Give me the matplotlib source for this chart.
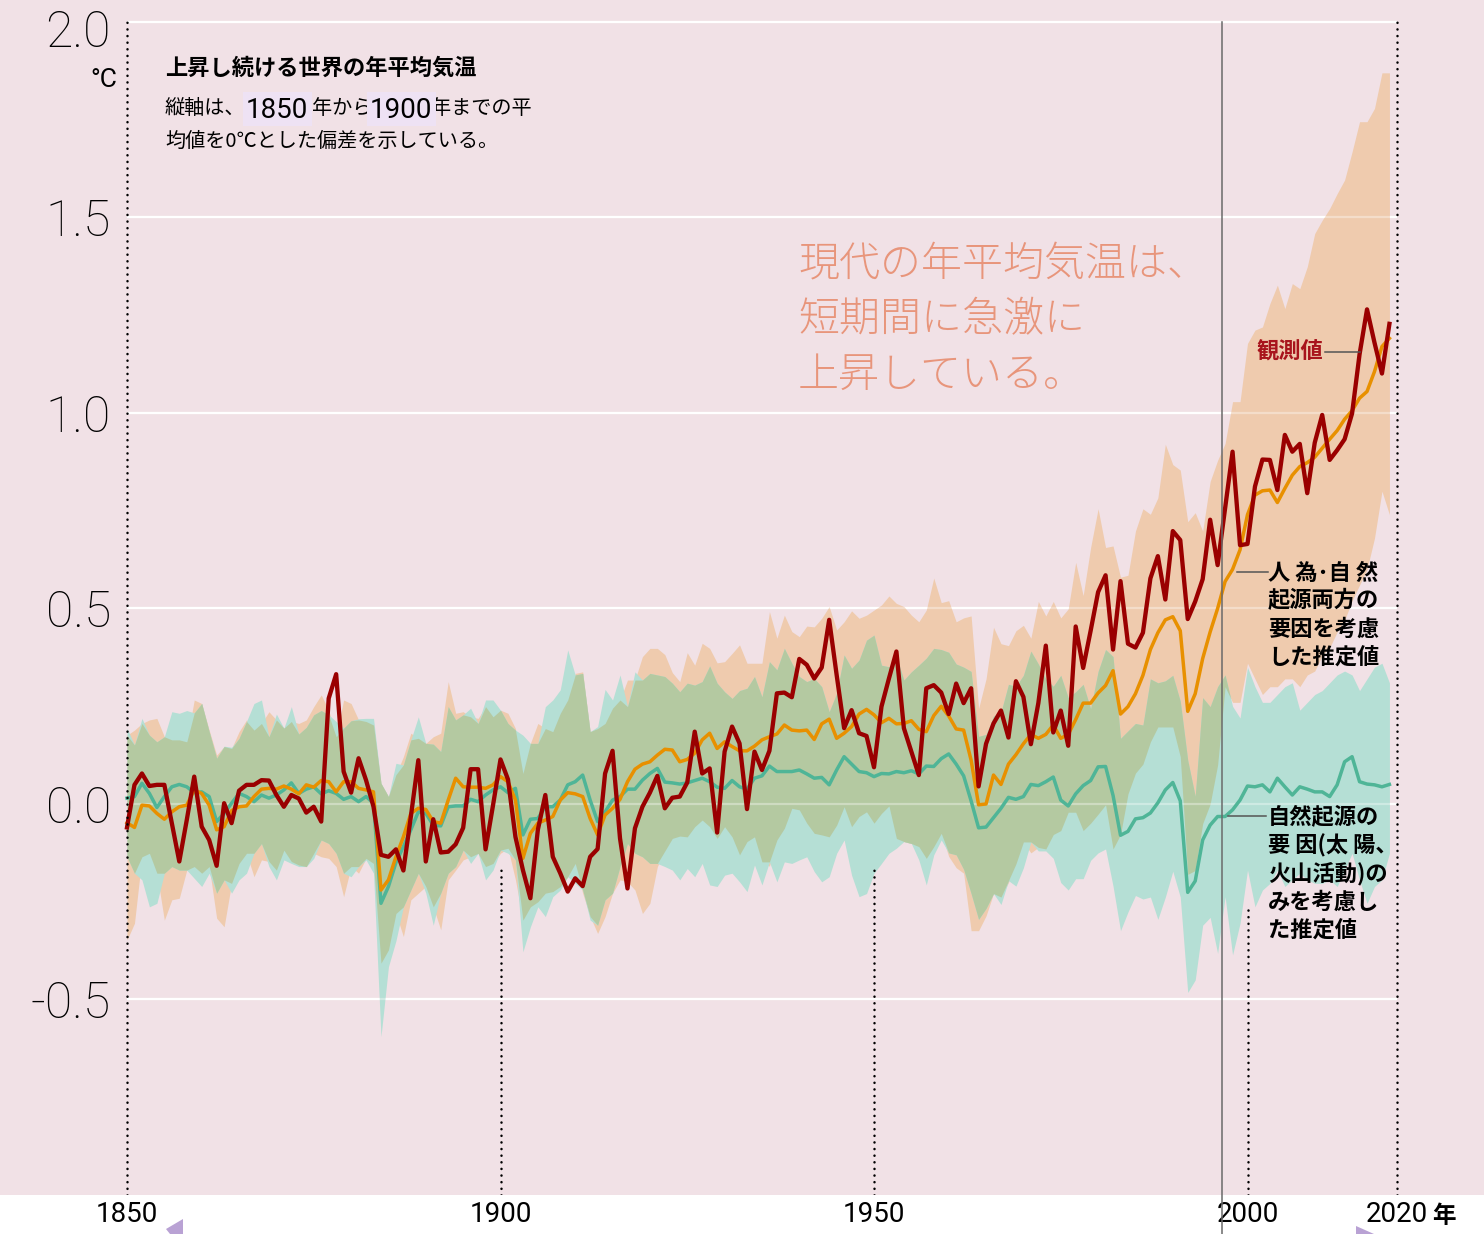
import numpy as np
import matplotlib
matplotlib.use("Agg")
import matplotlib.pyplot as plt
from matplotlib import font_manager
from matplotlib.lines import Line2D
from matplotlib.patches import Rectangle, Polygon
from matplotlib.transforms import blended_transform_factory

# ---- data (deg C, anomaly vs 1850-1900) ----
years = np.arange(1850, 2020)

observed = [
    -0.060, 0.049, 0.078, 0.046, 0.049, 0.049, -0.049, -0.147, -0.041, 0.070,
    -0.058, -0.092, -0.158, 0.002, -0.049, 0.034, 0.049, 0.049, 0.061, 0.060,
    0.023, -0.007, 0.023, 0.014, -0.022, -0.007, -0.045, 0.270, 0.332, 0.083,
    0.029, 0.117, 0.061, -0.007, -0.130, -0.135, -0.116, -0.170, -0.032, 0.112,
    -0.147, -0.039, -0.124, -0.122, -0.103, -0.061, 0.089, 0.089, -0.116, -0.003,
    0.114, 0.063, -0.084, -0.169, -0.241, -0.066, 0.023, -0.135, -0.177, -0.224,
    -0.190, -0.210, -0.135, -0.115, 0.078, 0.136, -0.088, -0.216, -0.062, -0.007,
    0.029, 0.072, -0.011, 0.016, 0.019, 0.055, 0.185, 0.078, 0.091, -0.073,
    0.134, 0.198, 0.155, -0.013, 0.134, 0.087, 0.136, 0.283, 0.285, 0.273,
    0.371, 0.356, 0.321, 0.349, 0.471, 0.330, 0.194, 0.240, 0.181, 0.174,
    0.094, 0.249, 0.321, 0.390, 0.194, 0.134, 0.074, 0.296, 0.304, 0.285,
    0.230, 0.308, 0.258, 0.296, 0.045, 0.154, 0.206, 0.239, 0.170, 0.314,
    0.274, 0.153, 0.258, 0.405, 0.183, 0.239, 0.149, 0.454, 0.348, 0.443,
    0.542, 0.585, 0.395, 0.570, 0.410, 0.400, 0.438, 0.577, 0.634, 0.523,
    0.698, 0.675, 0.473, 0.518, 0.575, 0.727, 0.611, 0.756, 0.901, 0.662,
    0.665, 0.812, 0.881, 0.880, 0.803, 0.944, 0.901, 0.921, 0.795, 0.924,
    0.995, 0.880, 0.905, 0.933, 0.999, 1.150, 1.265, 1.180, 1.101, 1.228,
]

# human + natural, simulated mean
both = [
    -0.048, -0.060, -0.003, -0.005, -0.024, -0.039, -0.020, -0.007, -0.003, 0.036,
    0.027, -0.003, -0.066, -0.058, -0.017, -0.007, -0.005, 0.019, 0.038, 0.040,
    0.038, 0.046, 0.038, 0.026, 0.049, 0.043, 0.060, 0.057, 0.031, 0.057,
    0.057, 0.040, 0.036, 0.031, -0.220, -0.194, -0.135, -0.084, -0.024, -0.011,
    -0.014, -0.045, -0.049, 0.010, 0.066, 0.044, 0.043, 0.043, 0.040, 0.049,
    0.070, 0.057, 0.010, -0.139, -0.075, -0.049, -0.041, -0.032, 0.010, 0.029,
    0.026, 0.019, -0.037, -0.079, -0.028, -0.011, 0.012, 0.057, 0.089, 0.102,
    0.108, 0.125, 0.140, 0.138, 0.108, 0.114, 0.130, 0.164, 0.181, 0.142,
    0.159, 0.147, 0.136, 0.136, 0.148, 0.164, 0.172, 0.179, 0.202, 0.189,
    0.187, 0.189, 0.165, 0.205, 0.217, 0.168, 0.181, 0.198, 0.230, 0.242,
    0.228, 0.208, 0.219, 0.205, 0.206, 0.213, 0.191, 0.185, 0.226, 0.250,
    0.225, 0.192, 0.189, 0.112, -0.002, 0.000, 0.074, 0.050, 0.102, 0.126,
    0.154, 0.178, 0.168, 0.178, 0.202, 0.168, 0.178, 0.216, 0.258, 0.258,
    0.284, 0.303, 0.341, 0.230, 0.249, 0.282, 0.329, 0.395, 0.438, 0.471,
    0.479, 0.443, 0.237, 0.282, 0.372, 0.440, 0.500, 0.569, 0.600, 0.650,
    0.740, 0.790, 0.801, 0.803, 0.771, 0.807, 0.841, 0.863, 0.873, 0.887,
    0.910, 0.933, 0.955, 0.984, 1.006, 1.038, 1.055, 1.106, 1.170, 1.191,
]

# natural only (solar, volcanic), simulated mean
natural = [
    0.015, 0.019, 0.053, 0.027, -0.009, 0.019, 0.044, 0.050, 0.044, 0.029,
    0.031, 0.019, -0.045, -0.024, 0.002, 0.027, 0.019, 0.006, 0.023, 0.015,
    0.023, 0.036, 0.054, 0.027, 0.038, 0.044, 0.026, 0.034, 0.027, 0.012,
    0.019, 0.006, 0.019, 0.002, -0.254, -0.211, -0.150, -0.109, -0.066, -0.020,
    -0.024, -0.054, -0.056, -0.007, -0.005, -0.005, 0.012, 0.006, 0.023, 0.036,
    0.044, 0.029, 0.040, -0.079, -0.039, -0.037, -0.007, -0.007, 0.010, 0.049,
    0.057, 0.074, 0.010, -0.045, -0.020, 0.010, 0.019, 0.038, 0.038, 0.061,
    0.078, 0.091, 0.056, 0.054, 0.051, 0.054, 0.060, 0.066, 0.057, 0.043,
    0.040, 0.060, 0.044, 0.038, 0.066, 0.072, 0.097, 0.083, 0.083, 0.083,
    0.087, 0.077, 0.066, 0.068, 0.049, 0.087, 0.121, 0.102, 0.083, 0.080,
    0.070, 0.078, 0.077, 0.083, 0.080, 0.085, 0.077, 0.097, 0.096, 0.116,
    0.128, 0.102, 0.072, 0.008, -0.061, -0.059, -0.035, -0.011, 0.017, 0.012,
    0.019, 0.050, 0.047, 0.057, 0.069, 0.010, -0.005, 0.026, 0.047, 0.060,
    0.095, 0.096, 0.022, -0.080, -0.070, -0.038, -0.035, -0.023, 0.003, 0.036,
    0.055, 0.008, -0.226, -0.197, -0.092, -0.054, -0.032, -0.032, -0.015, 0.010,
    0.046, 0.044, 0.049, 0.031, 0.066, 0.044, 0.023, 0.044, 0.038, 0.031,
    0.031, 0.019, 0.049, 0.108, 0.121, 0.057, 0.051, 0.049, 0.044, 0.050,
]

both_hi = [
    .176, .189, .206, .215, .219, .172, .164, .164, .159, .266,
    .257, .189, .125, .147, .142, .185, .215, .189, .206, .236,
    .215, .194, .211, .206, .215, .249, .279, .240, .172, .266,
    .257, .215, .211, .202, .053, .019, .075, .121, .181, .168,
    .155, .172, .181, .313, .232, .236, .223, .219, .249, .223,
    .240, .232, .193, .078, .155, .206, .193, .185, .232, .266,
    .334, .338, .185, .193, .206, .245, .266, .317, .317, .377,
    .398, .398, .382, .336, .313, .387, .355, .411, .398, .361,
    .364, .385, .407, .360, .360, .360, .492, .424, .483, .441,
    .428, .455, .453, .475, .505, .445, .466, .494, .475, .483,
    .496, .509, .532, .513, .505, .483, .466, .496, .578, .515,
    .520, .466, .476, .481, .244, .320, .452, .410, .405, .443,
    .457, .424, .518, .481, .518, .476, .499, .618, .533, .656,
    .755, .656, .660, .580, .585, .698, .755, .741, .783, .920,
    .868, .854, .722, .745, .698, .825, .879, .922, 1.029, 1.029,
    1.178, 1.212, 1.220, 1.280, 1.327, 1.267, 1.331, 1.318, 1.374, 1.459,
    1.493, 1.523, 1.561, 1.596, 1.668, 1.745, 1.745, 1.779, 1.870, 1.870,
]

both_lo = [
    -.348, -.305, -.135, -.126, -.177, -.297, -.245, -.241, -.169, -.160,
    -.177, -.160, -.292, -.314, -.203, -.152, -.126, -.186, -.143, -.147,
    -.169, -.118, -.147, -.156, -.160, -.126, -.135, -.139, -.160, -.237,
    -.160, -.177, -.139, -.152, -.407, -.373, -.280, -.339, -.245, -.228,
    -.211, -.263, -.322, -.194, -.169, -.143, -.135, -.126, -.160, -.152,
    -.126, -.113, -.194, -.297, -.263, -.250, -.228, -.224, -.211, -.186,
    -.152, -.228, -.288, -.331, -.288, -.228, -.194, -.199, -.220, -.280,
    -.254, -.160, -.120, -.088, -.082, -.084, -.058, -.041, -.058, -.088,
    -.058, -.084, -.130, -.096, -.084, -.148, -.159, -.092, -.062, -.011,
    -.015, -.049, -.075, -.079, -.084, -.054, -.007, -.058, -.032, -.020,
    -.049, -.024, -.005, -.088, -.096, -.101, -.109, -.139, -.109, -.075,
    -.134, -.163, -.177, -.324, -.324, -.286, -.229, -.238, -.201, -.153,
    -.097, -.125, -.111, -.115, -.078, -.068, -.021, -.021, -.068, -.049,
    -.026, -.002, -.115, -.078, .026, .079, .102, .159, .197, .197,
    .197, .121, -.180, -.170, -.050, .000, .100, .300, .260, .260,
    .360, .320, .280, .300, .300, .320, .320, .300, .330, .340,
    .380, .400, .440, .470, .520, .560, .600, .680, .800, .740,
]

nat_hi = [
    .194, .151, .219, .176, .159, .172, .236, .232, .239, .233,
    .257, .185, .117, .148, .145, .168, .211, .257, .266, .172,
    .230, .194, .249, .179, .196, .228, .239, .228, .211, .194,
    .213, .218, .219, .219, .053, .019, .104, .100, .164, .223,
    .155, .153, .134, .249, .215, .228, .245, .206, .266, .266,
    .240, .206, .189, .176, .155, .155, .249, .266, .292, .394,
    .330, .334, .185, .198, .293, .266, .330, .249, .338, .317,
    .334, .330, .326, .309, .287, .309, .304, .313, .353, .309,
    .287, .270, .290, .296, .326, .274, .364, .343, .398, .360,
    .326, .313, .321, .300, .236, .283, .381, .347, .368, .419,
    .432, .355, .351, .377, .317, .338, .355, .373, .398, .395,
    .388, .358, .350, .339, .173, .178, .225, .235, .306, .301,
    .329, .391, .358, .320, .301, .329, .272, .287, .306, .244,
    .339, .395, .377, .168, .187, .206, .202, .320, .310, .315,
    .329, .263, .112, .020, .272, .249, .300, .330, .250, .220,
    .350, .300, .260, .260, .280, .300, .310, .240, .260, .280,
    .290, .310, .330, .340, .330, .290, .320, .350, .360, .310,
]

nat_lo = [
    -.135, -.177, -.194, -.263, -.254, -.177, -.160, -.169, -.169, -.190,
    -.211, -.177, -.228, -.194, -.228, -.194, -.177, -.126, -.101, -.160,
    -.194, -.143, -.152, -.160, -.160, -.139, -.092, -.101, -.126, -.177,
    -.186, -.160, -.143, -.177, -.595, -.416, -.350, -.263, -.220, -.177,
    -.228, -.310, -.228, -.177, -.160, -.118, -.152, -.126, -.194, -.169,
    -.118, -.126, -.143, -.378, -.314, -.263, -.288, -.237, -.220, -.186,
    -.203, -.220, -.297, -.310, -.245, -.228, -.160, -.101, -.126, -.135,
    -.152, -.152, -.160, -.169, -.194, -.165, -.186, -.152, -.207, -.211,
    -.182, -.177, -.199, -.224, -.156, -.207, -.148, -.199, -.148, -.152,
    -.143, -.135, -.173, -.199, -.186, -.126, -.092, -.182, -.237, -.229,
    -.177, -.152, -.126, -.113, -.096, -.101, -.143, -.207, -.130, -.092,
    -.125, -.130, -.167, -.229, -.295, -.267, -.229, -.257, -.196, -.210,
    -.163, -.097, -.120, -.120, -.139, -.201, -.220, -.191, -.191, -.144,
    -.125, -.115, -.210, -.324, -.276, -.234, -.243, -.238, -.295, -.238,
    -.172, -.238, -.482, -.450, -.310, -.290, -.382, -.237, -.386, -.305,
    -.169, -.263, -.220, -.203, -.169, -.211, -.194, -.177, -.194, -.203,
    -.203, -.194, -.211, -.169, -.126, -.194, -.254, -.211, -.194, -.126,
]

grid_values = [-0.5, 0.0, 0.5, 1.0, 1.5, 2.0]
ytick_labels = ["-0.5", "0.0", "0.5", "1.0", "1.5", "2.0"]
xtick_years = [1850, 1900, 1950, 2000, 2020]
xtick_labels = ["1850", "1900", "1950", "2000", "2020"]

# ---- look ----
W, H = 1484, 1234
BG = "#f1e1e6"
C_OBS = "#9a0000"
C_BOTH = "#e89000"
C_NAT = "#4fb597"
C_BOTH_BAND = "#efcbae"
C_NAT_BAND = "#b5dfd5"
C_OVERLAP = "#b4c9a1"
C_NOTE = "#e8957b"

installed = {f.name for f in font_manager.fontManager.ttflist}


def pick(*names):
    for n in names:
        if n in installed:
            return n
    return "DejaVu Sans"


JP = "Noto Sans CJK JP"
NARROW = pick("Liberation Sans Narrow", "Roboto", "DejaVu Sans")
THIN = pick("Roboto", "Lato", "DejaVu Sans")
plt.rcParams["font.family"] = [JP, "DejaVu Sans"]


def fx(x):
    return x / W


def fy(y):
    return 1 - y / H


fig = plt.figure(figsize=(W / 100, H / 100), dpi=100, facecolor="white")
ax = fig.add_axes([0, fy(1195), 1, 1195 / H])
ax.set_facecolor(BG)
px_per_year = 7.47
ax.set_xlim(1850 - 127 / px_per_year, 1850 + (W - 127) / px_per_year)
ax.set_ylim(-1.0, 804 / 391)
for s in ax.spines.values():
    s.set_visible(False)
ax.set_xticks([])
ax.set_yticks([])

# grid under the bands, plus a faint copy on top
ax.hlines(grid_values, 1850, 2020, colors="white", lw=1.6, zorder=0.5)
ax.hlines(grid_values, 1850, 2020, colors="white", lw=1.6, alpha=0.35, zorder=1.5)

# bands: each alone, then their overlap in its own colour
both_lo_a, both_hi_a = np.array(both_lo), np.array(both_hi)
nat_lo_a, nat_hi_a = np.array(nat_lo), np.array(nat_hi)
ax.fill_between(years, both_lo_a, both_hi_a, color=C_BOTH_BAND, lw=0, zorder=1)
ax.fill_between(years, nat_lo_a, nat_hi_a, color=C_NAT_BAND, lw=0, zorder=1.1)
lo = np.maximum(both_lo_a, nat_lo_a)
hi = np.minimum(both_hi_a, nat_hi_a)
ax.fill_between(years, lo, hi, where=hi > lo, interpolate=True,
                color=C_OVERLAP, lw=0, zorder=1.2)

ax.plot(years, natural, color=C_NAT, lw=2.5, zorder=3)
ax.plot(years, both, color=C_BOTH, lw=2.5, zorder=3.1)
ax.plot(years, observed, color=C_OBS, lw=3.1, zorder=3.2)

# dotted year lines
tops = [2.0, -0.156, -0.169, -0.258, 2.0]
for yr, top in zip(xtick_years, tops):
    ax.plot([yr, yr], [-1.0, top], color="black", lw=1.8,
            ls=(0, (0.05, 2.6)), dash_capstyle="round", zorder=4)

tx = blended_transform_factory(ax.transData, fig.transFigure)
for yr, lab in zip(xtick_years, xtick_labels):
    ax.text(yr, fy(1215), lab, transform=tx, ha="center", va="center",
            fontsize=20, family=NARROW, clip_on=False)
fig.text(fx(1444), fy(1216), "年", ha="center", va="center", fontsize=17,
         weight="bold")

ty = blended_transform_factory(fig.transFigure, ax.transData)
for v, lab in zip(grid_values, ytick_labels):
    yv = v - 0.015 if v == 2.0 else v
    ax.text(fx(111), yv, lab, transform=ty, ha="right", va="center_baseline",
            fontsize=36, family=THIN, weight="light")
fig.text(fx(117), fy(80), "°C", ha="right", va="center", fontsize=19,
         family=THIN)

# fold line of the page
fig.add_artist(Line2D([fx(1222)] * 2, [0, fy(22)], color="#6a6a6a", lw=1.1))

# heading
fig.text(fx(165), fy(68), "上昇し続ける世界の年平均気温", fontsize=16,
         weight="bold", va="center")
fig.text(fx(165), fy(108), "縦軸は、", fontsize=14.5, va="center")
fig.text(fx(312), fy(108), "年から", fontsize=14.5, va="center")
fig.text(fx(431), fy(108), "年までの平", fontsize=14.5, va="center")
fig.text(fx(165), fy(141), "均値を0℃とした偏差を示している。", fontsize=14.5,
         va="center")
for x0, lab in [(243, "1850"), (367, "1900")]:
    fig.add_artist(Rectangle((fx(x0), fy(126)), 69 / W, 34 / H,
                             transform=fig.transFigure, fc="#eee2f4",
                             ec="none", zorder=5))
    fig.text(fx(x0 + 34), fy(111), lab, ha="center", va="center",
             fontsize=20, family=NARROW, zorder=6)

# big note
for i, line in enumerate(["現代の年平均気温は、", "短期間に急激に", "上昇している。"]):
    fig.text(fx(798), fy(264 + 55.5 * i), line, fontsize=29.5, color=C_NOTE,
             weight="light", va="center")

# labels with leaders
fig.text(fx(1323), fy(351), "観測値", ha="right", va="center", fontsize=16,
         weight="bold", color="#a8141c")
fig.add_artist(Line2D([fx(1325), fx(1360)], [fy(352)] * 2, color="#555555",
                      lw=1.1))

for i, line in enumerate(["人 為･自 然", "起源両方の", "要因を考慮", "した推定値"]):
    fig.text(fx(1268), fy(573 + 28 * i), line, fontsize=16, weight="bold",
             va="center")
fig.add_artist(Line2D([fx(1237), fx(1268)], [fy(572)] * 2, color="#555555",
                      lw=1.1))

for i, line in enumerate(["自然起源の", "要 因(太 陽、", "火山活動)の",
                          "みを考慮し", "た推定値"]):
    fig.text(fx(1268), fy(817 + 28.3 * i), line, fontsize=16, weight="bold",
             va="center")
fig.add_artist(Line2D([fx(1228), fx(1266)], [fy(816)] * 2, color="#555555",
                      lw=1.1))

# cut-off page arrows at the bottom edge
fig.add_artist(Polygon([[fx(166), fy(1229)], [fx(183), fy(1219)],
                        [fx(183), fy(1234)], [fx(170), fy(1234)]],
                       closed=True, fc="#b9a2d4", ec="none"))
fig.add_artist(Polygon([[fx(1356), fy(1226)], [fx(1374), fy(1234)],
                        [fx(1356), fy(1234)]],
                       closed=True, fc="#b9a2d4", ec="none"))

fig.savefig("out.png", dpi=100, facecolor="white")
